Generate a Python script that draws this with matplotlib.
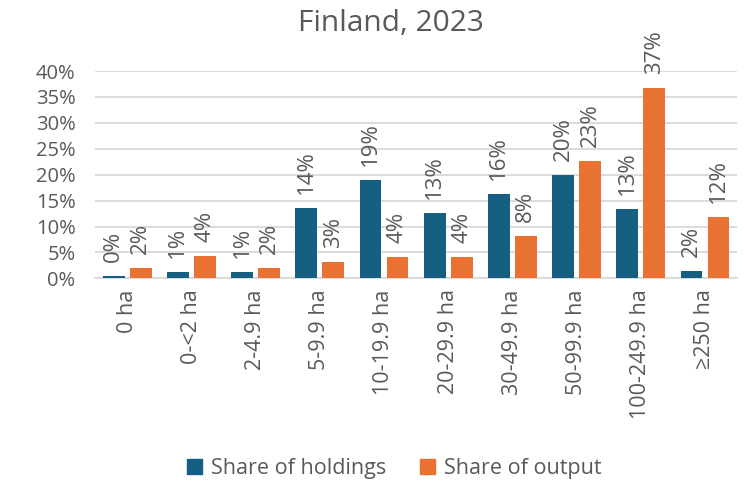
import numpy as np
import matplotlib
matplotlib.use('Agg')
from matplotlib import pyplot as plt
from matplotlib.patches import Patch

# data (shares in %)
categories = ['0 ha', '0-<2 ha', '2-4.9 ha', '5-9.9 ha', '10-19.9 ha', '20-29.9 ha',
              '30-49.9 ha', '50-99.9 ha', '100-249.9 ha', '≥250 ha']
holdings = [0.45, 1.2, 1.2, 13.6, 19.0, 12.7, 16.3, 20.0, 13.4, 1.5]
output = [2.0, 4.3, 2.0, 3.2, 4.2, 4.2, 8.2, 22.7, 36.8, 11.9]
yticks = [0, 5, 10, 15, 20, 25, 30, 35, 40]

blue = '#156082'
orange = '#E97132'
txt = '#595959'

plt.rcParams['font.family'] = ['Open Sans', 'DejaVu Sans']

fig = plt.figure(figsize=(7.44, 4.83), dpi=100)
ax = fig.add_axes([0.1277, 0.4238, 0.863, 0.429])

x = np.arange(len(categories))
w = 0.34
off = 0.21
b1 = ax.bar(x - off, holdings, w, color=blue, zorder=3)
b2 = ax.bar(x + off, output, w, color=orange, zorder=3)

for bars, vals in [(b1, holdings), (b2, output)]:
    for r, v in zip(bars, vals):
        ax.annotate('%d%%' % round(v), (r.get_x() + r.get_width() / 2, v),
                    xytext=(0, 10), textcoords='offset points',
                    rotation=90, ha='center', va='bottom',
                    fontsize=16, color=txt, annotation_clip=False)

ax.set_xlim(-0.5, len(categories) - 0.5)
ax.set_ylim(0, 40)
ax.set_yticks(yticks)
ax.set_yticklabels(['%d%%' % t for t in yticks])
ax.set_xticks(x)
ax.set_xticklabels(categories, rotation=90)
ax.tick_params(axis='both', length=0, colors=txt)
ax.tick_params(axis='x', labelsize=15.5, pad=8)
ax.tick_params(axis='y', labelsize=14.5, pad=14)
ax.grid(axis='y', color='#D9D9D9', linewidth=1.3, zorder=0)
for s in ['top', 'right', 'left']:
    ax.spines[s].set_visible(False)
ax.spines['bottom'].set_color('#D9D9D9')
ax.spines['bottom'].set_linewidth(1.3)

fig.text(0.525, 0.952, 'Finland, 2023', ha='center', va='center', fontsize=21.5, color=txt)

handles = [Patch(color=blue, label='Share of holdings'),
           Patch(color=orange, label='Share of output')]
fig.legend(handles=handles, loc='center', bbox_to_anchor=(0.53, 0.03), ncol=2,
           frameon=False, fontsize=15.5, handlelength=0.7, handleheight=0.7,
           handletextpad=0.4, columnspacing=1.6, labelcolor=txt)

fig.savefig('out.png', dpi=100)
